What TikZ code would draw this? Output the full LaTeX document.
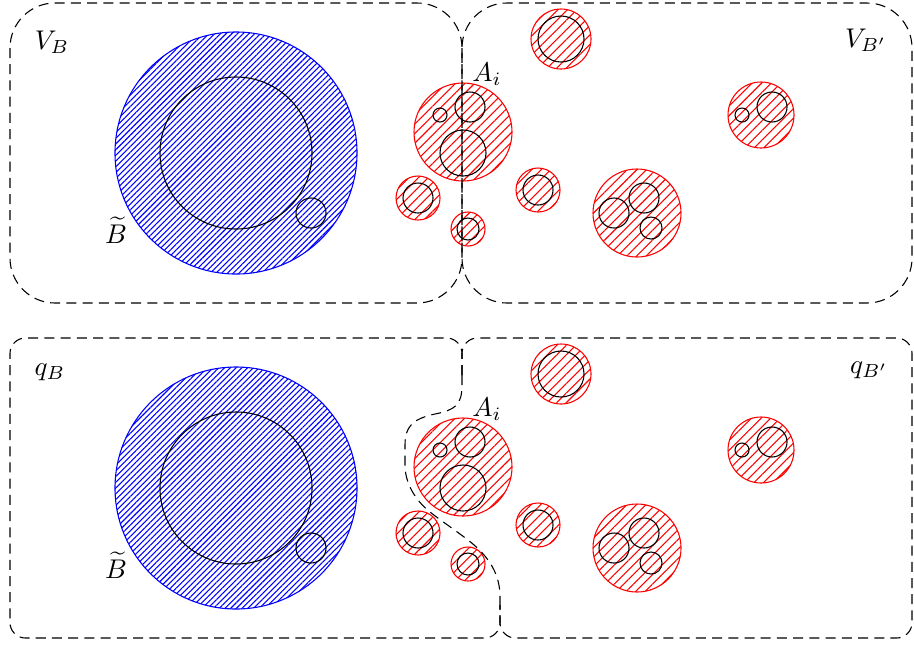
\documentclass[tikz,border=0pt]{standalone}
\usepackage{amssymb}
\usepackage{amsmath}
\usepackage{tikz}
\usetikzlibrary{patterns.meta}

\begin{document}
\begin{tikzpicture}[x=0.013cm,y=-0.013cm,
  ball/.style={circle,draw,inner sep=0pt,minimum size=#1*0.026cm},
  red ball/.style={ball=#1,draw=red,pattern={Lines[angle=45,distance=2.5pt]},pattern color=red},
  blue ball/.style={ball=#1,draw=blue,pattern={Lines[angle=45,distance=1.5pt]},pattern color=blue}]
  \tikzstyle{region}=[dash pattern=on 3.7pt off 2.3pt]
  \useasboundingbox (0,0) rectangle (914,644);

  \begin{scope}
    \node [blue ball=121] (b)  at (236,153) {};
    \node [ball=76]       (b1) at (236,153) {};
    \node [ball=15]       (b2) at (311,213) {};
    \node (bt) at (116,230) {$\widetilde{B}$};

    \node [red ball=49] (a)  at (463,132) {};
    \node [ball=7]      (a1) at (440,115) {};
    \node [ball=15]     (a2) at (470,107) {};
    \node [ball=23]     (a3) at (463,153) {};
    \node (ai) at (487,74) {$A_i$};

    \node [red ball=22] (c) at (418,198) {};
    \node [ball=15]     (c1) at (418,198) {};
    \node [red ball=17] (d) at (468,229) {};
    \node [ball=11]     (d1) at (468,229) {};
    \node [red ball=22] (e) at (538,190) {};
    \node [ball=15]     (e1) at (538,190) {};
    \node [red ball=30] (f) at (561,39) {};
    \node [ball=23]     (f1) at (561,39) {};
    \node [red ball=44] (g) at (637,213) {};
    \node [ball=15]     (g1) at (614,213) {};
    \node [ball=15]     (g2) at (644,198) {};
    \node [ball=11]     (g3) at (651,228) {};
    \node [red ball=33] (h) at (761,115) {};
    \node [ball=15]     (h1) at (772,107) {};
    \node [ball=7]      (h2) at (742,115) {};

    \node (vb) at (52,42) {$V_B$};
    \node (vbp) at (866,40) {$V_{B'}$};

    \draw [region,rounded corners=0.585cm] (10,3) rectangle (462,303);
    \draw [region,rounded corners=0.585cm] (462,3) rectangle (912,303);
  \end{scope}

  \begin{scope}[yshift=-4.355cm]
    \node [blue ball=121] (b)  at (236,153) {};
    \node [ball=76]       (b1) at (236,153) {};
    \node [ball=15]       (b2) at (311,213) {};
    \node (bt) at (116,230) {$\widetilde{B}$};

    \node [red ball=49] (a)  at (463,132) {};
    \node [ball=7]      (a1) at (440,115) {};
    \node [ball=15]     (a2) at (470,107) {};
    \node [ball=23]     (a3) at (463,153) {};
    \node (ai) at (487,74) {$A_i$};

    \node [red ball=22] (c) at (418,198) {};
    \node [ball=15]     (c1) at (418,198) {};
    \node [red ball=17] (d) at (468,229) {};
    \node [ball=11]     (d1) at (468,229) {};
    \node [red ball=22] (e) at (538,190) {};
    \node [ball=15]     (e1) at (538,190) {};
    \node [red ball=30] (f) at (561,39) {};
    \node [ball=23]     (f1) at (561,39) {};
    \node [red ball=44] (g) at (637,213) {};
    \node [ball=15]     (g1) at (614,213) {};
    \node [ball=15]     (g2) at (644,198) {};
    \node [ball=11]     (g3) at (651,228) {};
    \node [red ball=33] (h) at (761,115) {};
    \node [ball=15]     (h1) at (772,107) {};
    \node [ball=7]      (h2) at (742,115) {};

    \node (qb) at (50,37) {$q_B$};
    \node (qbp) at (869,35) {$q_{B'}$};

    % the two regions share the wavy cut
    \draw [region,rounded corners=0.2cm] (462,40) -- (462,3) -- (10,3) -- (10,303) -- (500,303) -- (500,270);
    \draw [region,rounded corners=0.2cm] (462,40) -- (462,3) -- (912,3) -- (912,303) -- (500,303) -- (500,270);
    \draw [region] (462,40) -- (462,50) .. controls (462,70) and (455,75) .. (435,79)
      .. controls (412,84) and (405,92) .. (405,110) -- (405,130)
      .. controls (405,148) and (415,165) .. (430,177)
      .. controls (440,185) and (455,195) .. (468,205)
      .. controls (490,222) and (500,240) .. (500,262) -- (500,270);
  \end{scope}
\end{tikzpicture}
\end{document}
